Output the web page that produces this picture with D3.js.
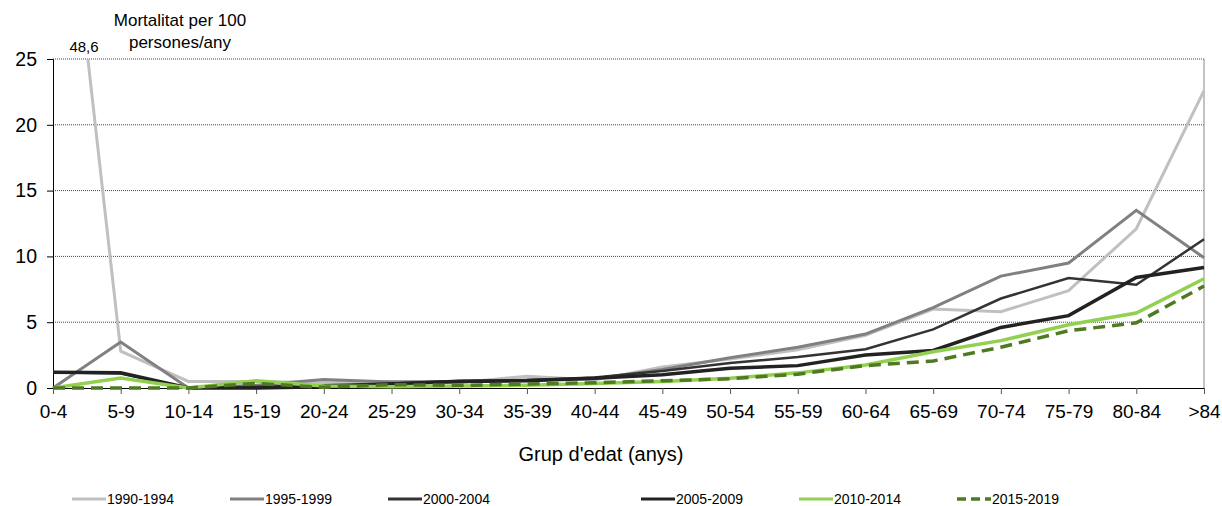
<!DOCTYPE html>
<html>
<head>
<meta charset="utf-8">
<script src="https://cdn.jsdelivr.net/npm/d3@7"></script>
<style>
  body { margin: 0; background: #fff; }
  svg { font-family: "Liberation Sans", Arial, sans-serif; }
</style>
</head>
<body>
<svg id="chart" width="1222" height="506"></svg>
<script>
// age groups on the x axis
const ageGroups = ["0-4", "5-9", "10-14", "15-19", "20-24", "25-29", "30-34", "35-39", "40-44",
    "45-49", "50-54", "55-59", "60-64", "65-69", "70-74", "75-79", "80-84", ">84"];

const periods = ["1990-1994", "1995-1999", "2000-2004", "2005-2009", "2010-2014", "2015-2019"];

// mortality per 100 persons/year
const v1990 = [48.6, 2.8, 0.5, 0.5, 0.4, 0.5, 0.4, 0.9, 0.6, 1.6, 2.2, 2.9, 4.0, 6.0, 5.8, 7.4, 12.1, 22.6];
const v1995 = [0, 3.5, 0, 0.2, 0.65, 0.45, 0.5, 0.6, 0.7, 1.4, 2.3, 3.1, 4.1, 6.1, 8.5, 9.5, 13.5, 9.9];
const v2000 = [1.2, 1.1, 0, 0.1, 0.2, 0.35, 0.55, 0.6, 0.8, 1.3, 1.9, 2.35, 2.95, 4.45, 6.8, 8.35, 7.85, 11.3];
const v2005 = [1.2, 1.15, 0, 0, 0.1, 0.3, 0.5, 0.55, 0.75, 1.0, 1.5, 1.7, 2.5, 2.85, 4.6, 5.5, 8.4, 9.15];
const v2010 = [0, 0.75, 0, 0.55, 0.15, 0.1, 0.15, 0.2, 0.35, 0.5, 0.75, 1.15, 1.75, 2.75, 3.6, 4.8, 5.7, 8.3];
const v2015 = [0, 0, 0, 0.35, 0.05, 0.25, 0.2, 0.3, 0.4, 0.55, 0.7, 1.05, 1.7, 2.05, 3.1, 4.35, 4.95, 7.75];

const yTicks = [0, 5, 10, 15, 20, 25];

const seriesValues = [v1990, v1995, v2000, v2005, v2010, v2015];
const colors = ["#c0c0c0", "#808080", "#333333", "#222222", "#92d050", "#4f7a21"];
const widths = [3, 3, 2.5, 3.5, 3.5, 3.5];
const dashes = [null, null, null, null, null, "12,7"];

const margin = {left: 53, right: 18, top: 59, bottom: 118};
const width = 1222, height = 506;

const svg = d3.select("#chart");

const x = d3.scalePoint()
    .domain(ageGroups)
    .range([margin.left, width - margin.right]);

const y = d3.scaleLinear()
    .domain([0, 25])
    .range([height - margin.bottom, margin.top]);

// gridlines
svg.append("g")
    .selectAll("line")
    .data(yTicks.filter(d => d > 0))
    .join("line")
    .attr("x1", margin.left)
    .attr("x2", width - margin.right)
    .attr("y1", d => y(d))
    .attr("y2", d => y(d))
    .attr("stroke", "#444")
    .attr("stroke-width", 1)
    .attr("stroke-dasharray", "1,1");

// right border
svg.append("line")
    .attr("x1", width - margin.right).attr("x2", width - margin.right)
    .attr("y1", y(25)).attr("y2", y(0))
    .attr("stroke", "#888").attr("stroke-width", 1);

// axes
const yAxis = svg.append("g")
    .attr("transform", `translate(${margin.left},0)`)
    .call(d3.axisLeft(y).tickValues(yTicks).tickSize(6).tickPadding(10));
yAxis.select(".domain").attr("stroke", "#000");
yAxis.selectAll("text").attr("font-size", 19.5).attr("fill", "#000")
    .attr("font-family", "Liberation Sans, Arial, sans-serif");

const xAxis = svg.append("g")
    .attr("transform", `translate(0,${y(0)})`)
    .call(d3.axisBottom(x).tickSize(6).tickPadding(11).tickSizeOuter(0));
xAxis.select(".domain").attr("stroke", "#000");
xAxis.selectAll(".tick line").attr("stroke", "#555");
xAxis.selectAll("text").attr("font-size", 19).attr("fill", "#000")
    .attr("font-family", "Liberation Sans, Arial, sans-serif");

// clip lines to the plot area
svg.append("clipPath").attr("id", "plotClip")
    .append("rect")
    .attr("x", margin.left - 5).attr("y", y(25))
    .attr("width", width - margin.left - margin.right + 10)
    .attr("height", y(0) - y(25) + 5);

const line = d3.line()
    .x((d, i) => x(ageGroups[i]))
    .y(d => y(d));

svg.append("g")
    .attr("clip-path", "url(#plotClip)")
    .selectAll("path")
    .data(seriesValues)
    .join("path")
    .attr("d", d => line(d))
    .attr("fill", "none")
    .attr("stroke", (d, i) => colors[i])
    .attr("stroke-width", (d, i) => widths[i])
    .attr("stroke-dasharray", (d, i) => dashes[i])
    .attr("stroke-linejoin", "miter");

// label for the clipped value
svg.append("text")
    .attr("x", 84).attr("y", 52)
    .attr("text-anchor", "middle")
    .attr("font-size", 15)
    .text(String(v1990[0]).replace(".", ","));

// y title
const yTitle = svg.append("text")
    .attr("text-anchor", "middle")
    .attr("font-size", 17);
yTitle.append("tspan").attr("x", 180).attr("y", 26).text("Mortalitat per 100");
yTitle.append("tspan").attr("x", 180).attr("y", 48).text("persones/any");

// x title
svg.append("text")
    .attr("x", 601).attr("y", 461)
    .attr("text-anchor", "middle")
    .attr("font-size", 20)
    .text("Grup d'edat (anys)");

// legend: two groups of three entries
const legend = svg.append("g")
    .selectAll("g")
    .data(periods)
    .join("g")
    .attr("transform", (d, i) => `translate(${72 + i * 158 + (i >= 3 ? 95 : 0)},499)`);

legend.append("line")
    .attr("x1", 0).attr("x2", 34)
    .attr("y1", 0).attr("y2", 0)
    .attr("stroke", (d, i) => colors[i])
    .attr("stroke-width", (d, i) => i === 5 ? 3.5 : 3)
    .attr("stroke-dasharray", (d, i) => i === 5 ? "9,5" : null);

legend.append("text")
    .attr("x", 35).attr("y", 5)
    .attr("font-size", 14)
    .text(d => d);
</script>
</body>
</html>
